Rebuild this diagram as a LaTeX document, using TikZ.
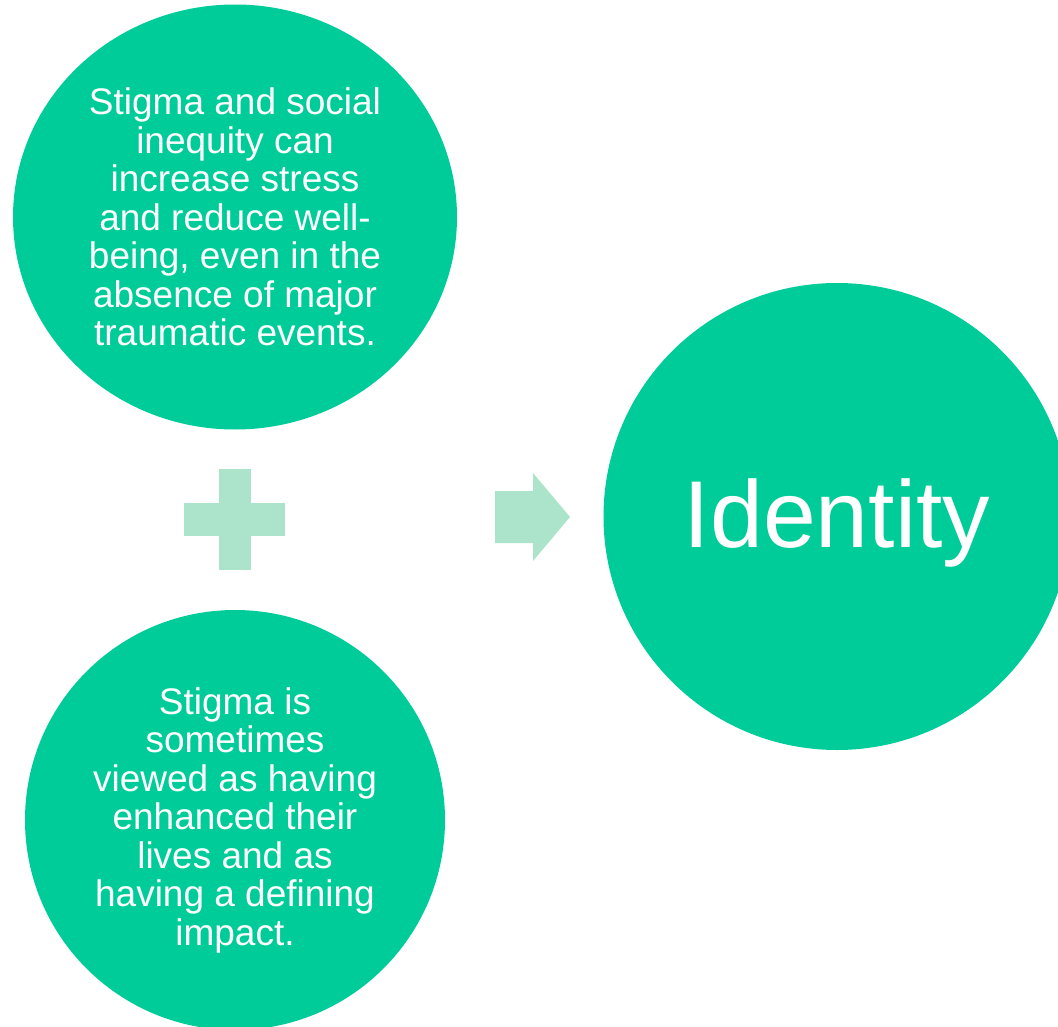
\documentclass[tikz,border=0pt]{standalone}
\usepackage{fontspec}
\setmainfont{Liberation Sans}
\usetikzlibrary{shapes.geometric}
\definecolor{bubblegreen}{HTML}{00CC99}
\definecolor{signgreen}{HTML}{ACE4CB}
\tikzstyle{bubble} = [ellipse, fill=bubblegreen, draw=none, inner sep=0pt, text=white, align=center, font=\fontsize{37}{38.5}\selectfont]
\tikzstyle{sign} = [fill=signgreen, draw=none]

\begin{document}
\begin{tikzpicture}[x=1pt,y=-1pt]
\useasboundingbox (0,0) rectangle (1058,1027);

\node (stigma) [bubble, minimum width=444pt, minimum height=425pt] at (235,217) {Stigma and social\\inequity can\\increase stress\\and reduce well-\\being, even in the\\absence of major\\traumatic events.};
\node (enhance) [bubble, minimum width=420pt, minimum height=420pt] at (235,820) {Stigma is\\sometimes\\viewed as having\\enhanced their\\lives and as\\having a defining\\impact.};
\node (identity) [bubble, minimum width=467pt, minimum height=467pt] at (837,516.5) {};
\node (idtext) [anchor=base, text=white, inner sep=0pt, font=\fontsize{95}{100}\selectfont] at ([yshift=-30.5pt]identity.center) {Identity};

% plus
\fill [sign] (219,469) rectangle (251,570);
\fill [sign] (184,503) rectangle (285,536);

% arrow
\fill [sign] (495,491) -- (533,491) -- (533,473) -- (570,517) -- (533,561) -- (533,543) -- (495,543) -- cycle;

\end{tikzpicture}
\end{document}
